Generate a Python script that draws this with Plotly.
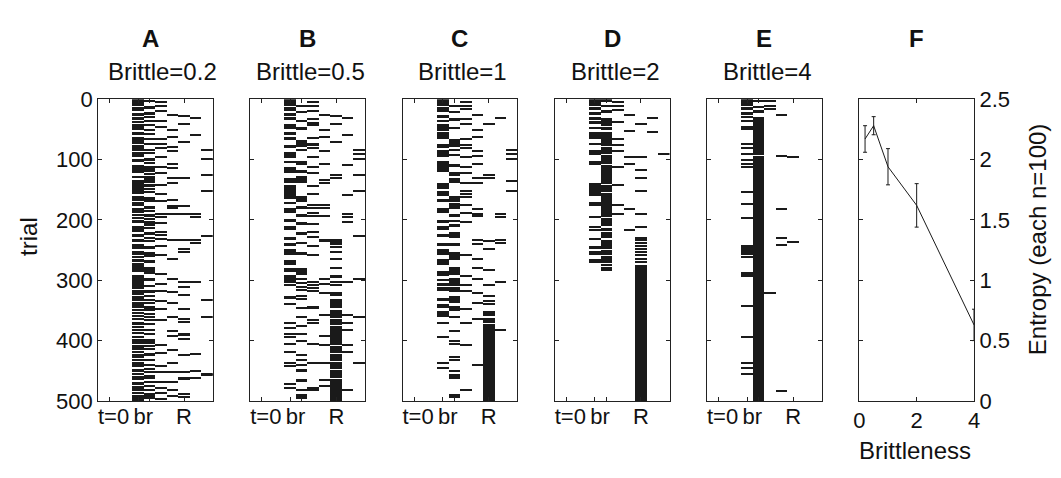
import plotly.graph_objects as go

# ---------------- data ----------------
panel_letters = ["A", "B", "C", "D", "E", "F"]
brittle_titles = ["Brittle=0.2", "Brittle=0.5", "Brittle=1", "Brittle=2", "Brittle=4"]
raster_columns = [3, 4, 5, 6, 7, 8, 9]          # event columns (x start)
x_tick_vals = [1, 3.5, 4.5, 7.5]               # tick marks
x_label_vals = [1.35, 3.95, 7.5]               # label positions
x_label_text = ["t=0", "br", "R"]
trial_ticks = [0, 100, 200, 300, 400, 500]

# each raster: one list per column; number = single trial, [a, b] = run of trials
raster_A = [
    [[0, 11], [13, 20], [23, 28], [30, 35], [41, 51], [55, 60], [63, 74], [76, 82], [87, 96], [100, 105],
     [109, 123], [134, 157], [161, 165], [171, 177], [180, 189], [201, 206], [210, 220], [224, 228],
     [232, 237], [240, 249], [251, 259], [265, 270], [272, 287], [291, 314], [319, 325], [330, 335],
     [340, 347], [369, 375], [393, 396], [401, 406], [411, 416], [435, 440], [448, 453], [469, 474],
     [479, 484], [490, 497], 38, 85, 130, 168, 193, 198, 262, 318, 328, 338, 350, 355, 360, 364, 378,
     382, 388, 399, 409, 420, 424, 428, 432, 443, 456, 460, 464, 477, 487, 499],
    [[11, 16], [21, 26], [34, 38], [50, 52], [65, 68], [74, 77], [84, 86], [97, 102], [105, 108], [115, 121],
     [128, 139], [142, 145], [162, 171], [178, 183], [190, 196], [202, 210], [220, 225], [244, 249],
     [254, 262], [267, 272], [279, 290], [296, 301], [317, 321], [332, 335], [343, 351], [372, 375],
     [398, 406], [421, 426], [458, 463], [487, 497], 3, 30, 44, 58, 90, 112, 125, 150, 155, 186, 199,
     214, 230, 236, 310, 327, 338, 356, 362, 366, 382, 389, 410, 415, 432, 440, 448, 452, 469, 476, 482],
    [5, 12, 20, 37, 47, 66, 75, 81, 97, 113, 123, 142, 157, 169, 191, 195, 206, 220, 225, 232, 244, 259,
     290, 306, 319, 335, 348, 366, 408, 421, 442, 453, 469, 479, 487, 497],
    [26, 52, 63, 79, 87, 108, 115, 131, 139, 168, 178, 181, 191, 233, 265, 299, 320, 338, 361, 385, 393,
     416, 437, 453, 469, 482, 492],
    [29, 42, 71, 131, 178, 191, 233, 249, 254, 304, 311, 325, 348, 364, 369, [387, 392], 398, 424, 453,
     [461, 466], 489, 494],
    [32, 60, 191, 196, 233, 238, 304, 422, 450, 463],
    [84, 100, 126, 152, 227, 333, 362, 455, 458],
]

raster_B = [
    [[0, 11], [14, 20], [24, 28], [30, 34], [42, 50], [55, 59], [63, 68], [76, 81], [87, 97], [102, 106],
     [113, 122], [131, 139], [142, 160], [162, 165], [170, 174], [180, 189], [199, 204], [210, 217],
     [228, 233], [238, 244], [249, 259], [267, 275], [280, 286], [291, 304], 308, [327, 332], 340, 372,
     380, 390, 395, 406, 419, 437, 442, [471, 474], 479],
    [[11, 14], [21, 24], [34, 38], [47, 51], [68, 79], [84, 86], [102, 110], [118, 123], [128, 139],
     [160, 170], [178, 183], [191, 196], [204, 209], [220, 225], [238, 240], [254, 259], [280, 291],
     [296, 300], 305, 311, 317, 327, 332, 346, 361, 377, 390, 401, 424, 432, 440, [448, 453], [463, 469],
     482, [489, 497]],
    [5, 12, 20, 34, 40, 44, 65, 74, 76, 81, 97, 113, 123, 144, 157, 176, 181, 189, 194, 207, 220, 228,
     244, 259, 304, 309, 314, 319, [343, 348], 366, 372, 406, 437, 479, 482],
    [26, 52, 63, 87, 108, 134, 139, 176, 181, 194, 233, 236, 299, 306, 322, 358, 393, 408, 437, 466, 476],
    [29, 42, 71, 126, 131, [232, 238], 241, 246, 253, 265, 280, [291, 296], 304, 309, [319, 327],
     [332, 347], [349, 363], [365, 374], [376, 407], [409, 420], [422, 434], [436, 447], [449, 462],
     [464, 500]],
    [32, 60, 110, 160, 191, 196, 204, 304, 358, 372, 382, 408, 419, 482],
    [84, 92, 100, 126, 152, 227, 299, 361, 437],
]

raster_C = [
    [[0, 11], [13, 21], [26, 32], [34, 38], [42, 53], [55, 66], [74, 81], [84, 96], [102, 121], [139, 149],
     [152, 160], [165, 170], [180, 189], [201, 206], [210, 217], [223, 228], [238, 244], [249, 259],
     [265, 275], [285, 293], [299, 301], [304, 309], 314, 317, [330, 335], [340, 346], [351, 361], 372,
     395, 437, 445],
    [[11, 13], [21, 24], [32, 37], [47, 50], [66, 74], [76, 79], [84, 86], [92, 94], [108, 113], [121, 128],
     [131, 139], [160, 170], [173, 183], [190, 196], [201, 204], [207, 212], [220, 230], [238, 244],
     [254, 267], [278, 291], [296, 309], [311, 319], [327, 338], [343, 351], 361, 385, 401, 406, 427,
     432, 450, 458, [459, 463], [489, 495]],
    [5, 12, 17, 34, 42, 66, 76, 81, 97, 113, 123, 139, 152, 157, 162, 176, 189, 204, 259, 293, 309, 319,
     348, 372, 408, 482],
    [26, 52, 63, 87, 94, 108, 131, 139, 183, 191, 194, 233, 241, 265, 280, 299, 322, 338, 364, 440],
    [42, 126, 131, 236, 249, 283, 309, 327, 335, 340, [351, 360], [362, 371], [373, 500]],
    [32, 191, 196, 233, 238, 304, 382],
    [84, 92, 100, 136, 152],
]

raster_D = [
    [[0, 11], [13, 18], [21, 26], [29, 34], [37, 42], [47, 50], [55, 66], [74, 76], [84, 92], [102, 110],
     [139, 160], [170, 178], 196, 212, 217, 232, [244, 249], [251, 259], [265, 272]],
    [[0, 5], [11, 13], [18, 24], [32, 39], [41, 44], [46, 52], [54, 78], [80, 91], [93, 107], [109, 141],
     [143, 154], [156, 195], [197, 211], [213, 219], [221, 231], [233, 249], [251, 253], [255, 258],
     [260, 271], [273, 277], [279, 285]],
    [5, 12, 18, 38, 66, 77, 86, 113, 142, 175, 191],
    [26, 53, 96, 108, 183, 217],
    [42, 96, 118, 131, 152, 190, 212, 230, 234, 238, 244, 249, 254, 259, 265, 270, [275, 500]],
    [32, 55],
    [92],
]

raster_E = [
    [[0, 11], [13, 18], [21, 26], [29, 32], 37, 47, 50, 74, 81, 92, 102, 108, 113, 155, 174, 198, 244,
     247, 249, 251, 254, 257, 262, 288, 291, 294, 343, 395, 437, 445, 456],
    [[2, 4], [11, 15], [18, 24], [29, 93], [95, 500]],
    [4, 12, 16, 321],
    [26, 94, 183, 230, 242, 484],
    [96, 237],
    [],
    [],
]

rasters = [raster_A, raster_B, raster_C, raster_D, raster_E]

brittleness = [0.2, 0.5, 1, 2, 4]
entropy = [2.17, 2.28, 1.94, 1.62, 0.63]
entropy_err = [0.11, 0.075, 0.15, 0.18, 0.13]

# ---------------- layout geometry (screen pixels) ----------------
W, H = 1061, 478
SHIFT = 8            # page body margin offsets the figure on screen
panel_left = [93, 247, 401, 555, 709, 863]
panel_w = 116
top_px, bot_px = 91.5, 410


def px(x):
    return (x - SHIFT) / W


def py(y):
    return 1 - (y - SHIFT) / H


ydom = [py(bot_px), py(top_px)]

FONT = "Liberation Sans, Arial, Helvetica, sans-serif"
INK = "#1a1a1a"
LINE_HALF = 1.0  # half-thickness (trials) of a single-trial line

fig = go.Figure()

for i, raster in enumerate(rasters):
    ys, ws, bases = [], [], []
    for col, items in zip(raster_columns, raster):
        for it in items:
            if isinstance(it, list):
                a, b = it
            else:
                a, b = it - LINE_HALF, it + LINE_HALF
            ys.append((a + b) / 2)
            ws.append(b - a)
            bases.append(col)
    ax = "" if i == 0 else str(i + 1)
    fig.add_trace(go.Bar(
        orientation="h", y=ys, x=[1] * len(ys), base=bases, width=ws,
        marker=dict(color=INK, line=dict(width=0)),
        xaxis="x" + ax, yaxis="y" + ax, showlegend=False, hoverinfo="skip",
    ))

fig.add_trace(go.Scatter(
    x=brittleness, y=entropy, mode="lines",
    line=dict(color=INK, width=1),
    error_y=dict(type="data", array=entropy_err, color=INK, thickness=1, width=2),
    xaxis="x6", yaxis="y6", showlegend=False, cliponaxis=False,
))

tickfont = dict(family=FONT, size=22, color="#111")
common_axis = dict(
    showline=True, linecolor="#222", linewidth=1, mirror="ticks",
    ticks="inside", ticklen=4, tickcolor="#222", showgrid=False, zeroline=False,
    tickfont=tickfont,
)

layout = dict(
    width=W, height=H, margin=dict(l=0, r=0, t=0, b=0),
    paper_bgcolor="white", plot_bgcolor="white", barmode="overlay", bargap=0,
    font=dict(family=FONT, size=22, color="#111"),
)

for i in range(6):
    ax = "" if i == 0 else str(i + 1)
    xd = [px(panel_left[i]), px(panel_left[i] + panel_w)]
    if i < 5:
        layout["xaxis" + ax] = dict(common_axis, domain=xd, range=[0, 10], tickvals=x_tick_vals,
                                     showticklabels=False, anchor="y" + ax)
        layout["yaxis" + ax] = dict(common_axis, domain=ydom, range=[500, 0], tickvals=trial_ticks,
                                     showticklabels=(i == 0), anchor="x" + ax)
        # label-only axis overlaying the raster x axis
        layout["xaxis" + str(7 + i)] = dict(
            overlaying="x" + ax, anchor="y" + ax, range=[0, 10], tickvals=x_label_vals,
            ticktext=x_label_text, ticks="", showline=False, showgrid=False, zeroline=False,
            tickfont=tickfont, side="bottom",
        )
    else:
        layout["xaxis6"] = dict(common_axis, domain=xd, range=[0, 4], tickvals=[0, 2, 4], anchor="y6")
        layout["yaxis6"] = dict(common_axis, domain=ydom, range=[0, 2.5], dtick=0.5, side="right",
                                anchor="x6")

fig.update_layout(**layout)

# invisible traces so the label axes are drawn
for i in range(5):
    ax = "" if i == 0 else str(i + 1)
    fig.add_trace(go.Scatter(x=[None], y=[None], xaxis="x" + str(7 + i), yaxis="y" + ax,
                             showlegend=False, hoverinfo="skip"))

ann = []
for i in range(6):
    cx = panel_left[i] + panel_w / 2
    ann.append(dict(text="<b>" + panel_letters[i] + "</b>", x=px(cx - (5 if i == 0 else 0)), y=py(27),
                    xref="paper", yref="paper", xanchor="center", yanchor="middle",
                    showarrow=False, font=dict(size=24)))
    if i < 5:
        ann.append(dict(text=brittle_titles[i], x=px(cx + (7 if i == 0 else 3)), y=py(62),
                        xref="paper", yref="paper", xanchor="center", yanchor="middle",
                        showarrow=False, font=dict(size=24)))
ann.append(dict(text="trial", x=px(22), y=py(236), xref="paper", yref="paper",
                xanchor="center", yanchor="middle", showarrow=False, textangle=-90, font=dict(size=24)))
ann.append(dict(text="Entropy (each n=100)", x=px(1044), y=py(240), xref="paper", yref="paper",
                xanchor="center", yanchor="middle", showarrow=False, textangle=-90, font=dict(size=24)))
ann.append(dict(text="Brittleness", x=px(919), y=py(462), xref="paper", yref="paper",
                xanchor="center", yanchor="middle", showarrow=False, font=dict(size=24)))
fig.update_layout(annotations=ann)

fig.write_html("out.html")
